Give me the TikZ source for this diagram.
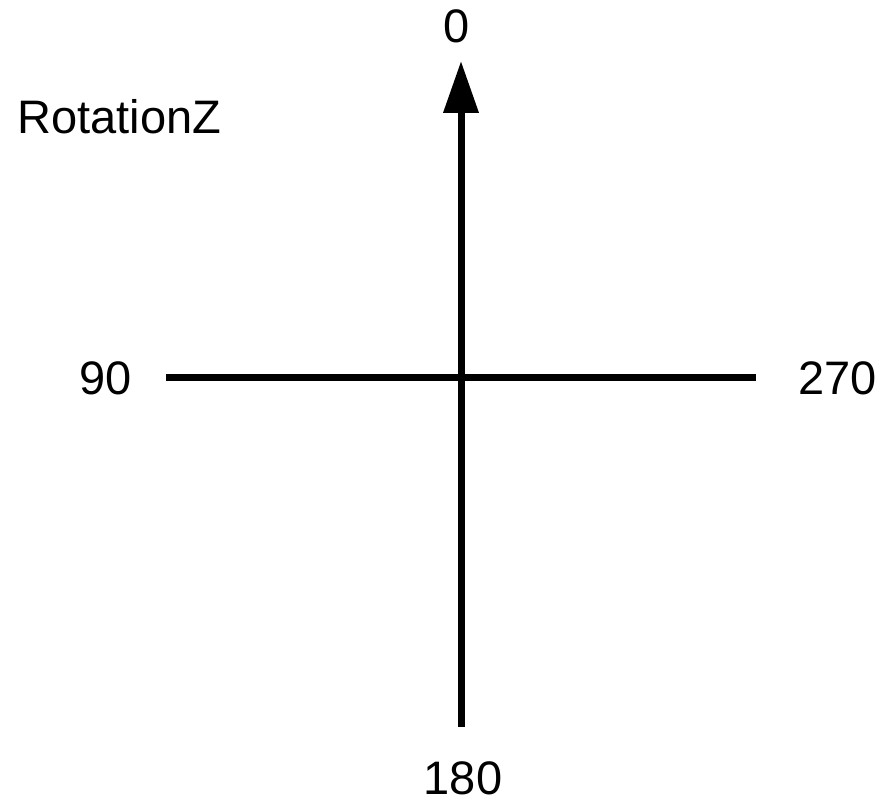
\documentclass[tikz,border=0pt]{standalone}
\usepackage{fontspec}
\setmainfont{Liberation Sans}
\usetikzlibrary{arrows.meta}
\begin{document}
\begin{tikzpicture}[x=1pt,y=-1pt,
  lbl/.style={font=\fontsize{47}{51}\selectfont, inner sep=0pt, anchor=center},
  axis/.style={line width=7pt, black}]
\useasboundingbox (0,0) rectangle (881,799);
\coordinate (top) at (461,61);
\coordinate (bottom) at (461,727);
\coordinate (left) at (166,378);
\coordinate (right) at (756,378);
\draw[axis] (left) -- (right);
\draw[axis, -{Triangle[width=34pt,length=52pt]}] (bottom) -- (top);
\node[lbl] (zero) at (457,26) {0};
\node[lbl] (title) at (119.5,116.5) {RotationZ};
\node[lbl] (ninety) at (106,378.5) {90};
\node[lbl] (twoseventy) at (837.5,378.5) {270};
\node[lbl] (oneeighty) at (463,778) {180};
\end{tikzpicture}
\end{document}
